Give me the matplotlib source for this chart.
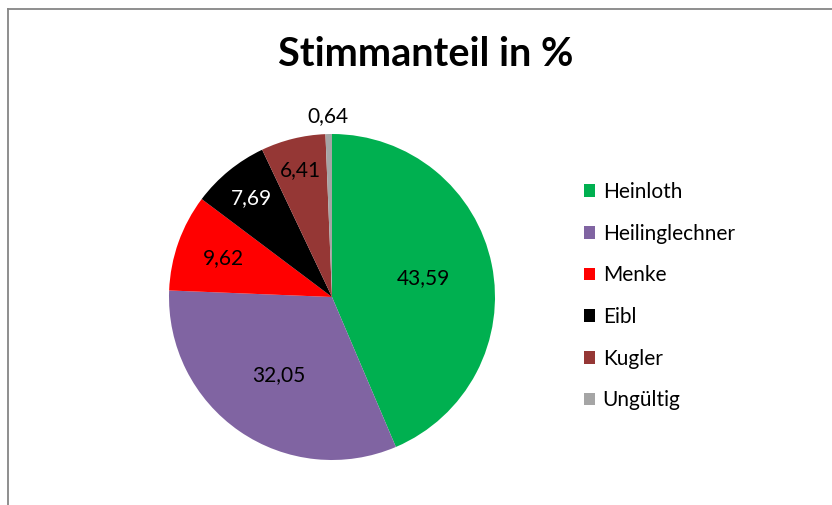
import numpy as np
import matplotlib.pyplot as plt
from matplotlib.lines import Line2D
from matplotlib.patches import Patch

# Stimmanteil in % je Kandidat
names = ["Heinloth", "Heilinglechner", "Menke", "Eibl", "Kugler", "Ungültig"]
shares = [43.59, 32.05, 9.62, 7.69, 6.41, 0.64]
colors = ["#00B050", "#8064A2", "#FF0000", "#000000", "#953735", "#A5A5A5"]

# Abstand der Beschriftung vom Mittelpunkt (Anteil am Radius) und Textfarbe
label_dist = [0.57, 0.58, 0.71, 0.78, 0.80, 1.11]
label_color = ["black", "black", "black", "white", "black", "black"]

plt.rcParams['font.family'] = ['Lato', 'DejaVu Sans']

W, H = 832, 505
fig = plt.figure(figsize=(W / 100, H / 100), dpi=100)

# Rahmen (oben und links sichtbar)
fig.add_artist(Line2D([8 / W, 1], [1 - 9 / H, 1 - 9 / H], color="#868686", lw=1.3))
fig.add_artist(Line2D([8 / W, 8 / W], [0, 1 - 9 / H], color="#868686", lw=1.3))

fig.text(426 / W, 1 - 55 / H, "Stimmanteil in %", ha="center", va="center",
         fontsize=28.5, fontweight="bold")

cx, cy, r = 332, 297, 163
ax = fig.add_axes([(cx - r) / W, (H - cy - r) / H, 2 * r / W, 2 * r / H])

wedges, _ = ax.pie(shares, colors=colors, startangle=90, counterclock=False,
                   wedgeprops=dict(linewidth=0))
ax.set_xlim(-1, 1)
ax.set_ylim(-1, 1)
ax.set_aspect("equal")
ax.axis("off")

for w, v, d, tc in zip(wedges, shares, label_dist, label_color):
    ang = np.deg2rad((w.theta1 + w.theta2) / 2)
    ax.text(d * np.cos(ang), d * np.sin(ang), f"{v:.2f}".replace(".", ","),
            ha="center", va="center", fontsize=15, color=tc, clip_on=False)

handles = [Patch(facecolor=c, edgecolor="none") for c in colors]
fig.legend(handles, names, loc="upper left", bbox_to_anchor=(584 / W, 1 - 182 / H),
           frameon=False, fontsize=15, handlelength=0.55, handleheight=0.55,
           handletextpad=0.35, labelspacing=1.04, borderpad=0, borderaxespad=0)

fig.savefig("out.png", dpi=100)
